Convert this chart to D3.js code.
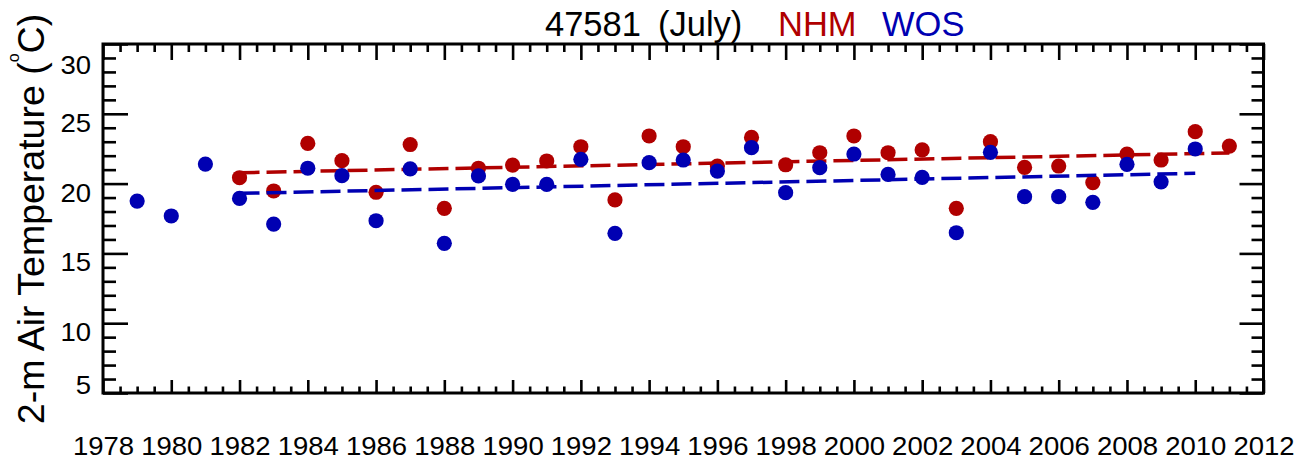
<!DOCTYPE html>
<html>
<head>
<meta charset="utf-8">
<script src="https://cdn.jsdelivr.net/npm/d3@7"></script>
<style>
  body { margin: 0; background: #fff; }
  text { font-family: "Liberation Sans", Arial, Helvetica, sans-serif; }
</style>
</head>
<body>
<div id="chart"></div>
<script>
// datos
var wosYears = d3.range(1979, 2011);
var wosValues = [18.75, 17.68, 21.4, 18.94, 17.1, 21.1, 20.57, 17.34, 21.05, 15.72,
                 20.55, 19.95, 19.95, 21.74, 16.44, 21.5, 21.69, 20.9, 22.57, 19.35,
                 21.14, 22.12, 20.66, 20.45, 16.48, 22.24, 19.06, 19.06, 18.66, 21.38,
                 20.13, 22.48];
var nhmYears = d3.range(1982, 2012);
var nhmValues = [20.42, 19.47, 22.88, 21.64, 19.38, 22.8, 18.23, 21.1, 21.33, 21.62,
                 22.64, 18.83, 23.41, 22.64, 21.26, 23.31, 21.35, 22.21, 23.41, 22.21,
                 22.41, 18.23, 23.0, 21.16, 21.26, 20.07, 22.12, 21.69, 23.72, 22.69];
// lineas de tendencia (extremos)
var nhmTrendYears = [1982, 2011];
var nhmTrendValues = [20.78, 22.2];
var wosTrendYears = [1982, 2010];
var wosTrendValues = [19.3, 20.74];

var xMajor = d3.range(1978, 2013, 2);
var xMinor = d3.range(1978, 2012.01, 0.5).filter(d => d % 2 !== 0);
var yMajor = [5, 10, 15, 20, 25, 30];
var yMinor = d3.range(5, 31).filter(d => d % 5 !== 0);

var red = "#b00000", blue = "#0000b2";

var svg = d3.select("#chart").append("svg")
    .attr("width", 1296)
    .attr("height", 462);

var x = d3.scaleLinear().domain([1978, 2012]).range([103, 1263.5]);
var y = d3.scaleLinear().domain([5, 30]).range([393, 44]);

function styleAxis(g) {
    g.select(".domain").remove();
    g.selectAll("line").attr("stroke", "#000").attr("stroke-width", 2.6);
}

// las cifras del original son algo mas anchas que Arial
function styleLabels(sel) {
    sel.attr("dy", null)
        .attr("font-size", 25.5)
        .attr("fill", "#000")
        .attr("textLength", d => 15.3 * String(d).length)
        .attr("lengthAdjust", "spacingAndGlyphs");
}

// eje inferior
svg.append("g").attr("transform", "translate(0,393)")
    .call(d3.axisBottom(x).tickValues(xMinor).tickSize(-6.5).tickFormat(""))
    .call(styleAxis);
var bottom = svg.append("g").attr("transform", "translate(0,393)")
    .call(d3.axisBottom(x).tickValues(xMajor).tickSize(-13).tickFormat(d3.format("d")))
    .call(styleAxis);
bottom.selectAll("text")
    .call(styleLabels)
    .attr("y", 61.5);

// eje superior
svg.append("g").attr("transform", "translate(0,44)")
    .call(d3.axisTop(x).tickValues(xMinor).tickSize(-8).tickFormat(""))
    .call(styleAxis);
svg.append("g").attr("transform", "translate(0,44)")
    .call(d3.axisTop(x).tickValues(xMajor).tickSize(-16).tickFormat(""))
    .call(styleAxis);

// eje izquierdo
svg.append("g").attr("transform", "translate(103,0)")
    .call(d3.axisLeft(y).tickValues(yMinor).tickSize(-13).tickFormat(""))
    .call(styleAxis);
var left = svg.append("g").attr("transform", "translate(103,0)")
    .call(d3.axisLeft(y).tickValues(yMajor).tickSize(-25).tickFormat(d3.format("d")))
    .call(styleAxis);
left.selectAll("text")
    .call(styleLabels)
    .attr("x", -12)
    .attr("y", d => Math.min(Math.max(y(d) + 17.5, 73), 393) - y(d));

// eje derecho
svg.append("g").attr("transform", "translate(1263.5,0)")
    .call(d3.axisRight(y).tickValues(yMinor).tickSize(-12).tickFormat(""))
    .call(styleAxis);
svg.append("g").attr("transform", "translate(1263.5,0)")
    .call(d3.axisRight(y).tickValues(yMajor).tickSize(-24).tickFormat(""))
    .call(styleAxis);

// marco
svg.append("rect")
    .attr("x", 103).attr("y", 44)
    .attr("width", 1263.5 - 103).attr("height", 393 - 44)
    .attr("fill", "none").attr("stroke", "#000").attr("stroke-width", 3);

var line = d3.line().x(d => x(d[0])).y(d => y(d[1]));

function drawSeries(years, values, tYears, tValues, color) {
    svg.append("g").selectAll("circle")
        .data(d3.zip(years, values))
        .enter().append("circle")
        .attr("cx", d => x(d[0]))
        .attr("cy", d => y(d[1]))
        .attr("r", 7.6)
        .attr("fill", color);
    svg.append("path")
        .datum(d3.zip(tYears, tValues))
        .attr("d", line)
        .attr("fill", "none")
        .attr("stroke", color)
        .attr("stroke-width", 3.5)
        .attr("stroke-dasharray", "20,7");
}

drawSeries(nhmYears, nhmValues, nhmTrendYears, nhmTrendValues, red);
drawSeries(wosYears, wosValues, wosTrendYears, wosTrendValues, blue);

// titulo
var title = svg.append("text").attr("y", 36).attr("font-size", 34.5);
title.append("tspan").attr("x", 545).attr("fill", "#000").text("47581");
title.append("tspan").attr("x", 658).attr("fill", "#000").text("(July)");
title.append("tspan").attr("x", 778).attr("fill", red).text("NHM");
title.append("tspan").attr("x", 882).attr("fill", blue).text("WOS");

// etiqueta eje y
var ylab = svg.append("text")
    .attr("transform", "translate(44,219) rotate(-90)")
    .attr("text-anchor", "middle")
    .attr("font-size", 37.5)
    .attr("fill", "#000");
ylab.append("tspan").text("2-m Air Temperature (");
ylab.append("tspan").attr("font-size", 16).attr("dy", -25).text("o");
ylab.append("tspan").attr("dy", 25).text("C)");
</script>
</body>
</html>
